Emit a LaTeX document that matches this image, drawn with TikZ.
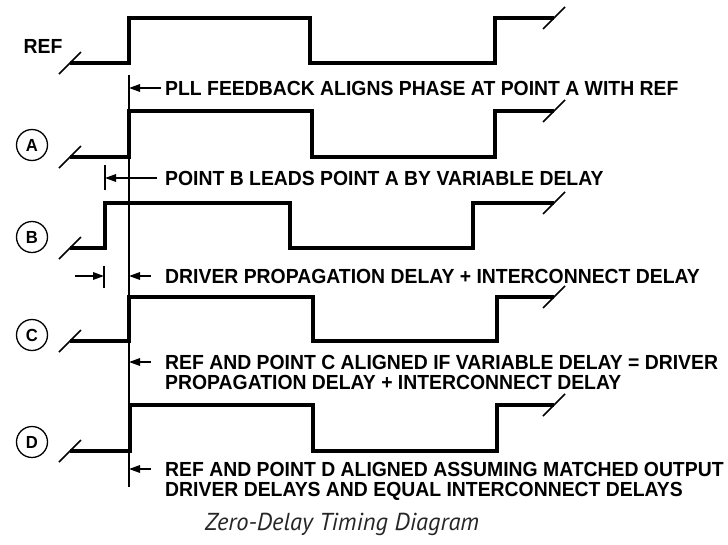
\documentclass[tikz,border=0pt]{standalone}
\usepackage{fontspec}
\setmainfont{Liberation Sans}[FakeStretch=0.95]
\newfontfamily\capfont{PT Sans}
\usetikzlibrary{arrows.meta}
\begin{document}
\begin{tikzpicture}[x=1pt,y=-1pt,
  wave/.style={line width=4.3pt, line join=miter, line cap=butt},
  brk/.style={line width=1.6pt},
  guide/.style={line width=1.3pt},
  arr/.style={line width=1.7pt, -{Triangle[length=11pt,width=7.5pt]}},
  lbl/.style={font=\fontsize{20.4}{21}\selectfont\bfseries, inner sep=0pt, anchor=west,
              text height=14.6pt, text depth=0pt},
  pin/.style={circle, draw, line width=1.3pt, minimum size=31pt, inner sep=0pt,
              font=\fontsize{17.5}{17.5}\selectfont\bfseries}]
\useasboundingbox (0,0) rectangle (728,544);

% square wave: low level, high level, first rise, fall, second rise
\newcommand\squarewave[5]{%
  \draw[wave] (70,#1) -- (#3,#1) -- (#3,#2) -- (#4,#2) -- (#4,#1) -- (#5,#1) -- (#5,#2) -- (554,#2);
  \draw[brk] (59,#1+11) -- (81,#1-11);
  \draw[brk] (543,#2+11) -- (565,#2-11);}

% signals
\node[lbl, anchor=center] (ref) at (43,46) {REF};
\squarewave{63}{18}{129}{310}{495}
\node[pin] (pa) at (32,145) {A};
\squarewave{157}{111}{129}{312}{495}
\node[pin] (pb) at (32,237) {B};
\squarewave{248}{203}{105}{290}{473}
\node[pin] (pc) at (32,335) {C};
\squarewave{341}{297}{129}{313}{497}
\node[pin] (pd) at (32,442) {D};
\squarewave{451}{405}{130}{313}{497}

% reference instant
\coordinate (vtop) at (129,75);
\coordinate (vbot) at (129,487);
\draw[guide] (vtop) -- (vbot);

% lead of point B
\coordinate (tbtop) at (105,165);
\coordinate (tbbot) at (105,190);
\draw[guide] (tbtop) -- (tbbot);
\coordinate (tdtop) at (104,266);
\coordinate (tdbot) at (104,288);
\draw[guide] (tdtop) -- (tdbot);
\coordinate (dl) at (75,276);

% annotations
\node[lbl] (pll) at (165,88) {PLL FEEDBACK ALIGNS PHASE AT POINT A WITH REF};
\draw[arr] ([xshift=-4pt]pll.west) -- (pll.west -| vtop);

\node[lbl] (lead) at (165,178) {POINT B LEADS POINT A BY VARIABLE DELAY};
\draw[arr] ([xshift=-8pt]lead.west) -- (lead.west -| tbtop);

\node[lbl] (drv) at (165,276) {DRIVER PROPAGATION DELAY + INTERCONNECT DELAY};
\draw[arr] ([xshift=-14pt]drv.west) -- (drv.west -| vtop);
\draw[arr] (dl) -- (dl -| tdtop);

\node[lbl] (ca) at (165,362) {REF AND POINT C ALIGNED IF VARIABLE DELAY = DRIVER};
\node[lbl] (cb) at (165,382) {PROPAGATION DELAY + INTERCONNECT DELAY};
\draw[arr] ([xshift=-14pt]ca.west) -- (ca.west -| vtop);

\node[lbl] (da) at (165,469) {REF AND POINT D ALIGNED ASSUMING MATCHED OUTPUT};
\node[lbl] (db) at (165,489) {DRIVER DELAYS AND EQUAL INTERCONNECT DELAYS};
\draw[arr] ([xshift=-14pt]da.west) -- (da.west -| vtop);

% caption
\node[font=\capfont\itshape\fontsize{24.5}{24.5}\selectfont, inner sep=0pt, text=black!85] (cap) at (342,524) {Zero-Delay Timing Diagram};
\end{tikzpicture}
\end{document}
